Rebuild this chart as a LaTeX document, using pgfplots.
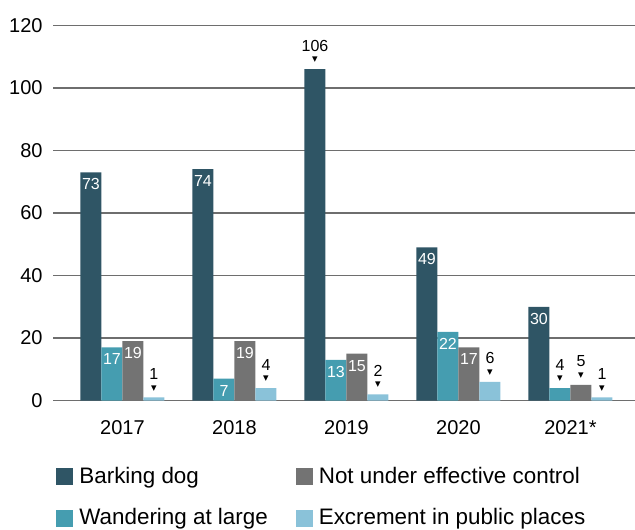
\documentclass[border=0pt]{standalone}
\usepackage{pgfplots}
\pgfplotsset{compat=1.18}
\usepackage{fontspec}
\setmainfont{Liberation Sans}
\newfontfamily\symfont{DejaVu Sans}

\definecolor{cbark}{HTML}{2F5565}
\definecolor{cwand}{HTML}{459DB0}
\definecolor{cctrl}{HTML}{737373}
\definecolor{cexcr}{HTML}{8AC2D9}
\definecolor{cgrid}{HTML}{6E6E6E}

\pgfplotsset{
  bars/.style={ybar, bar width=10.5pt, draw=none, forget plot},
  % white value inside the top of the bar
  inlbl/.style={draw=none, no marks, forget plot,
    nodes near coords={\pgfmathfloattoint{\pgfplotspointmeta}\pgfmathresult},
    every node near coord/.append style={anchor=north, inner sep=3pt, text=white,
      font=\fontsize{8}{9}\selectfont, xshift=#1}},
  % value above the bar with a small marker
  outlbl/.style={draw=none, no marks, forget plot,
    nodes near coords={\shortstack{\pgfmathfloattoint{\pgfplotspointmeta}\pgfmathresult\\{\symfont\fontsize{3.6}{4}\selectfont ▼}}},
    every node near coord/.append style={anchor=south, inner sep=3pt, text=black,
      font=\fontsize{8}{9}\selectfont, xshift=#1}},
  sq/.style={draw=none, legend image code/.code={\fill[##1] (0pt,-4.25pt) rectangle (8.5pt,4.25pt);}},
}

\begin{document}
\begin{tikzpicture}
\begin{axis}[
  scale only axis,
  width=291pt, height=187.5pt,
  xmin=-0.62, xmax=4.576,
  ymin=0, ymax=120,
  clip=false,
  axis line style={draw=none},
  tick style={draw=none},
  ytick={0,20,...,120},
  yticklabel={\pgfmathparse{int(\tick)}\pgfmathresult},
  xtick={0,1,2,3,4},
  xticklabels={2017,2018,2019,2020,2021*},
  ymajorgrids,
  grid style={line width=0.8pt, color=cgrid},
  tick label style={font=\fontsize{10}{12}\selectfont, text=black},
  yticklabel style={anchor=east, inner sep=0pt, xshift=-5pt},
  xticklabel style={anchor=north, inner sep=0pt, yshift=-9.75pt},
  legend columns=2,
  legend cell align=left,
  legend style={at={(0,0)}, anchor=north west, xshift=1.5pt, yshift=-33pt,
    draw=none, fill=none, inner sep=0pt, row sep=11.2pt,
    font=\fontsize{11.2}{13}\selectfont, nodes={inner sep=0pt},
    /tikz/every odd column/.style={column sep=3pt},
    /tikz/every even column/.style={column sep=14pt}},
]
% Barking dog
\addplot[bars, bar shift=-15.75pt, fill=cbark] coordinates {(0,73) (1,74) (2,106) (3,49) (4,30)};
% Wandering at large
\addplot[bars, bar shift=-5.25pt, fill=cwand] coordinates {(0,17) (1,7) (2,13) (3,22) (4,4)};
% Not under effective control
\addplot[bars, bar shift=5.25pt, fill=cctrl] coordinates {(0,19) (1,19) (2,15) (3,17) (4,5)};
% Excrement in public places
\addplot[bars, bar shift=15.75pt, fill=cexcr] coordinates {(0,1) (1,4) (2,2) (3,6) (4,1)};

% value labels
\addplot[inlbl=-15.75pt] coordinates {(0,73) (1,74) (3,49) (4,30)};
\addplot[outlbl=-15.75pt] coordinates {(2,106)};
\addplot[inlbl=-5.25pt] coordinates {(0,17) (1,7) (2,13) (3,22)};
\addplot[outlbl=-5.25pt] coordinates {(4,4)};
\addplot[inlbl=5.25pt] coordinates {(0,19) (1,19) (2,15) (3,17)};
\addplot[outlbl=5.25pt] coordinates {(4,5)};
\addplot[outlbl=15.75pt] coordinates {(0,1) (1,4) (2,2) (3,6) (4,1)};

\addlegendimage{sq, fill=cbark}
\addlegendentry{Barking dog}
\addlegendimage{sq, fill=cctrl}
\addlegendentry{Not under effective control}
\addlegendimage{sq, fill=cwand}
\addlegendentry{Wandering at large}
\addlegendimage{sq, fill=cexcr}
\addlegendentry{Excrement in public places}
\end{axis}
\pgfresetboundingbox
\path[use as bounding box] ([shift={(-26.5pt,-64.25pt)}]current axis.south west) rectangle ([shift={(0pt,12.75pt)}]current axis.north east);
\end{tikzpicture}
\end{document}
